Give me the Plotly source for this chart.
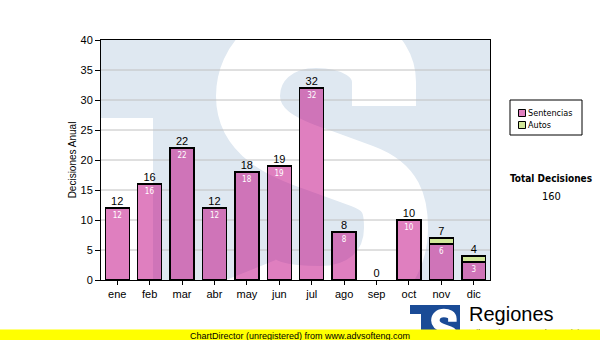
import plotly.graph_objects as go

# ---- data -------------------------------------------------------------
MONTHS = ["ene", "feb", "mar", "abr", "may", "jun",
          "jul", "ago", "sep", "oct", "nov", "dic"]
SENTENCIAS = [12, 16, 22, 12, 18, 19, 32, 8, 0, 10, 6, 3]
AUTOS = [0, 0, 0, 0, 0, 0, 0, 0, 0, 0, 1, 1]
SERIES_NAMES = ["Sentencias", "Autos"]
Y_TICKS = [0, 5, 10, 15, 20, 25, 30, 35, 40]
Y_TITLE = "Decisiones Anual"
TOTAL_TITLE = "Total Decisiones"

TOTALS = [s + a for s, a in zip(SENTENCIAS, AUTOS)]
POS = list(range(len(MONTHS)))

# ---- layout geometry (pixels in a 600x340 page) -----------------------
W, H = 600, 340
PL, PR, PT, PB = 101, 490, 40, 280
BARGAP = 0.26
Y_MAX = Y_TICKS[-1]

SANS = "Liberation Sans, Arial, sans-serif"
TAHOMA = "Tahoma, 'DejaVu Sans Condensed', 'DejaVu Sans', sans-serif"

PINK = "rgba(192,0,128,0.5)"
PINK_SOLID = "#e080c0"
GREEN = "#d2e899"
WM_BLUE = "#dfe8f1"
LOGO_BLUE = "#1a4b96"
SERIES_COLORS = [PINK_SOLID, GREEN]


def dx(px):
    """page x pixel -> x data value"""
    return (px - PL) / (PR - PL) * len(MONTHS) - 0.5


def dy(py):
    """page y pixel -> y data value"""
    return (PB - py) / (PB - PT) * Y_MAX


def fx(px):
    """page x pixel -> paper fraction"""
    return (px - PL) / (PR - PL)


def fy(py):
    """page y pixel -> paper fraction"""
    return (PB - py) / (PB - PT)


def svg_path(segments, conv):
    out = []
    for cmd, pts in segments:
        out.append(cmd + " " + " ".join(f"{a:.4f},{b:.4f}" for a, b in (conv(p) for p in pts)))
    return " ".join(out)


def nonzero(vals):
    # empty segments are left out instead of drawn as flat outlines
    return [v if v else None for v in vals]


# spine of the "S" letter of the Regiones logo (page pixels, plot-sized)
S_SPINE = [
    ("M", [(384, 106)]),
    ("L", [(384, 82)]),
    ("C", [(384, 52), (352, 36), (316, 36)]),
    ("C", [(276, 36), (248, 62), (248, 96)]),
    ("C", [(248, 132), (282, 148), (318, 160)]),
    ("L", [(362, 176)]),
    ("C", [(392, 187), (396, 205), (396, 228)]),
    ("C", [(396, 272), (362, 298), (320, 298)]),
    ("C", [(282, 298), (254, 292), (246, 272)]),
]

fig = go.Figure()

fig.add_trace(go.Bar(
    x=POS, y=nonzero(SENTENCIAS), name=SERIES_NAMES[0],
    marker=dict(color=PINK, line=dict(color="black", width=1.4)),
    text=[str(v) if v else "" for v in SENTENCIAS],
    textposition="inside", insidetextanchor="end", textangle=0,
    constraintext="none",
    textfont=dict(family=TAHOMA, size=8, color="white"),
    hoverinfo="skip", showlegend=False,
))
fig.add_trace(go.Bar(
    x=POS, y=nonzero(AUTOS), name=SERIES_NAMES[1],
    marker=dict(color=GREEN, line=dict(color="black", width=1.4)),
    hoverinfo="skip", showlegend=False,
))
fig.add_trace(go.Scatter(
    x=POS, y=TOTALS, mode="text", text=[str(t) for t in TOTALS],
    textposition="top center", showlegend=False, cliponaxis=False,
    textfont=dict(family=SANS, size=11, color="black"),
    hoverinfo="skip",
))

shapes = []
# watermark: white area under the T arm and the white S
shapes.append(dict(type="rect", xref="x", yref="y", layer="below",
                   x0=dx(PL - 5), x1=dx(153), y0=dy(PB + 5), y1=dy(118),
                   fillcolor="white", line=dict(width=0)))
shapes.append(dict(type="path", xref="x", yref="y", layer="below",
                   path=svg_path(S_SPINE, lambda p: (dx(p[0]), dy(p[1]))),
                   fillcolor="rgba(0,0,0,0)", line=dict(color="white", width=64)))

# horizontal grid lines, interrupted behind the bars
half = (1 - BARGAP) / 2
for g in Y_TICKS[1:-1]:
    start = -0.5
    for i, t in zip(POS, TOTALS):
        if t >= g:
            shapes.append(dict(type="line", xref="x", yref="y", layer="below",
                               x0=start, x1=i - half, y0=g, y1=g,
                               line=dict(color="#c0c0c0", width=1)))
            start = i + half
    shapes.append(dict(type="line", xref="x", yref="y", layer="below",
                       x0=start, x1=len(MONTHS) - 0.5, y0=g, y1=g,
                       line=dict(color="#c0c0c0", width=1)))

# legend box
shapes.append(dict(type="rect", xref="paper", yref="paper",
                   x0=fx(510), x1=fx(582), y0=fy(135), y1=fy(100),
                   fillcolor="white", line=dict(color="black", width=1)))
annotations = []
for k, (name, col) in enumerate(zip(SERIES_NAMES, SERIES_COLORS)):
    yc = 113 + 12 * k
    shapes.append(dict(type="rect", xref="paper", yref="paper",
                       x0=fx(518.5), x1=fx(525.5), y0=fy(yc + 3.5), y1=fy(yc - 3.5),
                       fillcolor=col, line=dict(color="black", width=1)))
    annotations.append(dict(xref="paper", yref="paper", x=fx(527), y=fy(yc),
                            text=name, showarrow=False, xanchor="left", yanchor="middle",
                            borderpad=0,
                            font=dict(family=TAHOMA, size=9, color="black")))

# Regiones logo in the lower right corner
shapes.append(dict(type="rect", xref="paper", yref="paper",
                   x0=fx(410), x1=fx(460), y0=fy(342), y1=fy(305),
                   fillcolor=LOGO_BLUE, line=dict(width=0)))
shapes.append(dict(type="rect", xref="paper", yref="paper",
                   x0=fx(410), x1=fx(421), y0=fy(342), y1=fy(314),
                   fillcolor="white", line=dict(width=0)))
shapes.append(dict(type="path", xref="paper", yref="paper",
                   path=svg_path(S_SPINE, lambda p: (fx(431 + (p[0] - 213) * 0.125),
                                                     fy(309 + (p[1] - 4) * 0.125))),
                   fillcolor="rgba(0,0,0,0)", line=dict(color="white", width=8.5)))

annotations += [
    dict(xref="paper", yref="paper", x=fx(551), y=fy(178), text=f"<b>{TOTAL_TITLE}</b>",
         showarrow=False, xanchor="center", yanchor="middle",
         font=dict(family=TAHOMA, size=10, color="black")),
    dict(xref="paper", yref="paper", x=fx(551), y=fy(196), text=str(sum(TOTALS)),
         showarrow=False, xanchor="center", yanchor="middle",
         font=dict(family=TAHOMA, size=11, color="black")),
    dict(xref="paper", yref="paper", x=fx(467), y=fy(314), text="Regiones",
         showarrow=False, xanchor="left", yanchor="middle",
         font=dict(family=SANS, size=20, color="black")),
    dict(xref="paper", yref="paper", x=fx(467), y=fy(327), text="Tribunal Supremo de Justicia",
         showarrow=False, xanchor="left", yanchor="top", borderpad=0,
         font=dict(family=SANS, size=9, color="black")),
    dict(xref="paper", yref="paper", x=fx(300), y=fy(336),
         text="ChartDirector (unregistered) from www.advsofteng.com",
         showarrow=False, xanchor="center", yanchor="middle",
         width=W + 4, height=12, borderpad=0, bgcolor="#ffff00",
         font=dict(family=SANS, size=9, color="black")),
]

fig.update_layout(
    width=W, height=H,
    margin=dict(l=PL, r=W - PR, t=PT, b=H - PB, autoexpand=False),
    paper_bgcolor="white", plot_bgcolor=WM_BLUE,
    barmode="stack", bargap=BARGAP,
    showlegend=False,
    xaxis=dict(range=[-0.5, len(MONTHS) - 0.5], tickvals=POS, ticktext=MONTHS,
               showgrid=False, zeroline=False, showline=True, mirror=True,
               linecolor="black", linewidth=1, ticks="outside", ticklen=4,
               tickcolor="black", automargin=False,
               tickfont=dict(family=SANS, size=11, color="black")),
    yaxis=dict(range=[0, Y_MAX], tickvals=Y_TICKS, showgrid=False, zeroline=False,
               showline=True, mirror=True, linecolor="black", linewidth=1,
               ticks="outside", ticklen=5, tickcolor="black", automargin=False,
               tickfont=dict(family=SANS, size=11, color="black"),
               title=dict(text=Y_TITLE, standoff=2,
                          font=dict(family=SANS, size=10, color="black"))),
    shapes=shapes,
    annotations=annotations,
)

fig.write_html("out.html")
